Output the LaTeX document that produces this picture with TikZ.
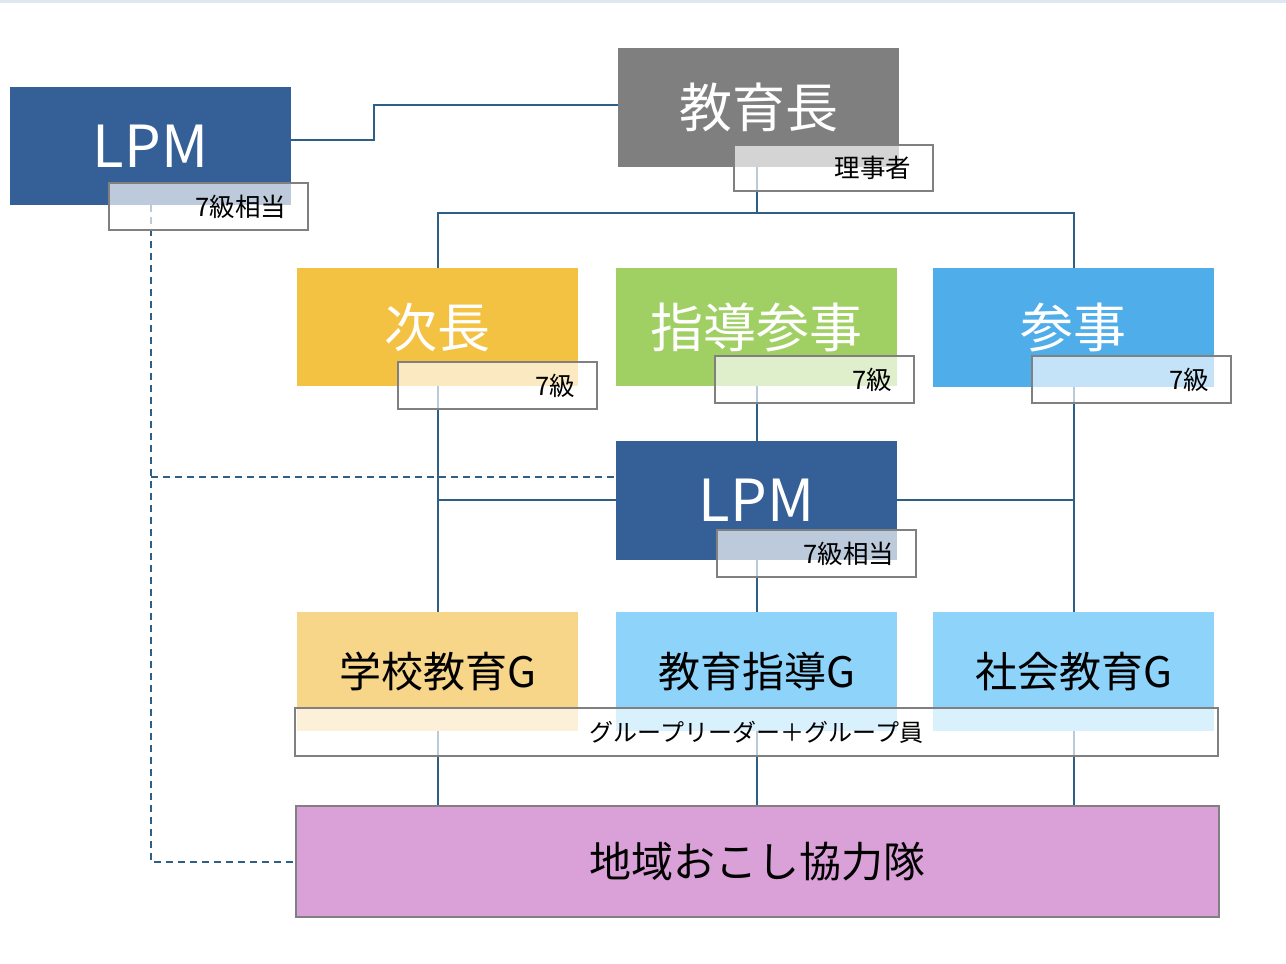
\documentclass[tikz,border=0pt]{standalone}
\usepackage{fontspec}
\setmainfont{Noto Sans CJK JP}
\pgfdeclarelayer{bg}
\pgfsetlayers{bg,main}
\definecolor{lpmblue}{HTML}{355F97}
\definecolor{kgray}{HTML}{7F7F7F}
\definecolor{jiyel}{HTML}{F4C243}
\definecolor{shgreen}{HTML}{A0D064}
\definecolor{sablue}{HTML}{4FADEA}
\definecolor{gayel}{HTML}{F7D68A}
\definecolor{gbblue}{HTML}{8ED3FA}
\definecolor{chpink}{HTML}{DAA0D8}
\definecolor{conncol}{HTML}{2E5F87}
\definecolor{topband}{HTML}{DFE7F3}
\definecolor{lblborder}{HTML}{808080}
\tikzset{
  mainbox/.style={rectangle, inner sep=0pt, minimum width=281pt, minimum height=118pt, text=white, font=\fontsize{53}{53}\selectfont},
  groupbox/.style={rectangle, inner sep=0pt, minimum width=281pt, minimum height=119pt, text=black, font=\fontsize{42}{42}\selectfont},
  lblbox/.style={rectangle, draw=lblborder, line width=2pt, fill=white, fill opacity=0.67, text opacity=1, text=black, text width=155pt, align=right, inner xsep=22pt, inner ysep=0pt, minimum height=47pt, font=\fontsize{25.5}{25.5}\selectfont},
  conn/.style={draw=conncol, line width=2pt},
  dashconn/.style={draw=conncol, line width=2pt, dash pattern=on 7pt off 5pt},
}
\begin{document}
\begin{tikzpicture}[x=1pt,y=-1pt]
\useasboundingbox (0,0) rectangle (1286,964);
\fill[topband] (0,0) rectangle (1286,3);
% main boxes
\node[mainbox, fill=lpmblue, minimum height=118pt, font=\fontsize{58}{58}\selectfont] (lpmA) at (150.5,146) {LPM};
\node[mainbox, fill=kgray, minimum height=119pt] (kyo) at (758.5,107.5) {教育長};
\node[mainbox, fill=jiyel] (jicho) at (437.5,327) {次長};
\node[mainbox, fill=shgreen] (shido) at (756.5,327) {指導参事};
\node[mainbox, fill=sablue, minimum height=119pt] (sanji) at (1073.5,327.5) {参事};
\node[mainbox, fill=lpmblue, minimum height=119pt, font=\fontsize{58}{58}\selectfont] (lpmB) at (756.5,500.5) {LPM};
\node[groupbox, fill=gayel] (gA) at (437.5,671.5) {学校教育G};
\node[groupbox, fill=gbblue] (gB) at (756.5,671.5) {教育指導G};
\node[groupbox, fill=gbblue] (gC) at (1073.5,671.5) {社会教育G};
\node[rectangle, draw=lblborder, line width=2pt, fill=chpink, minimum width=923pt, minimum height=111pt, inner sep=0pt, font=\fontsize{42}{42}\selectfont] (chiiki) at (757.5,861.5) {地域おこし協力隊};
% label boxes
\node[lblbox] (lblA) at (208.5,206.5) {7級相当};
\node[lblbox, minimum height=46pt] (lblK) at (833.5,168) {理事者};
\node[lblbox] (lblJ) at (497.5,385.5) {7級};
\node[lblbox] (lblS) at (814.5,379.5) {7級};
\node[lblbox] (lblSa) at (1131.5,379.5) {7級};
\node[lblbox] (lblB) at (816.5,553.5) {7級相当};
\node[lblbox, text width=923pt, align=center, inner xsep=0pt, minimum height=48pt, font=\fontsize{24}{24}\selectfont] (lblG) at (756.5,732) {グループリーダー＋グループ員};
% connectors
\begin{pgfonlayer}{bg}
\draw[conn] (lpmA.east |- 0,140) -- (374,140) -- (374,105) -- (kyo.west |- 0,105);
\draw[conn] (kyo.south -| shido.north) -- (shido.north |- 0,213);
\draw[conn] (jicho.north) -- (jicho.north |- 0,213) -- (sanji.north |- 0,213) -- (sanji.north);
\draw[conn] (jicho.south) -- (gA.north);
\draw[conn] (shido.south) -- (lpmB.north);
\draw[conn] (sanji.south) -- (gC.north);
\draw[conn] (lpmB.west |- 0,500) -- (gA.north |- 0,500);
\draw[conn] (lpmB.east |- 0,500) -- (gC.north |- 0,500);
\draw[conn] (lpmB.south) -- (gB.north);
\draw[conn] (gA.south) -- (gA.south |- chiiki.north);
\draw[conn] (gB.south) -- (gB.south |- chiiki.north);
\draw[conn] (gC.south) -- (gC.south |- chiiki.north);
\draw[dashconn] (lpmA.south) -- (lpmA.south |- chiiki.west) -- (chiiki.west);
\draw[dashconn] (lpmA.south |- 0,477) -- (lpmB.west |- 0,477);
\end{pgfonlayer}
\end{tikzpicture}
\end{document}
